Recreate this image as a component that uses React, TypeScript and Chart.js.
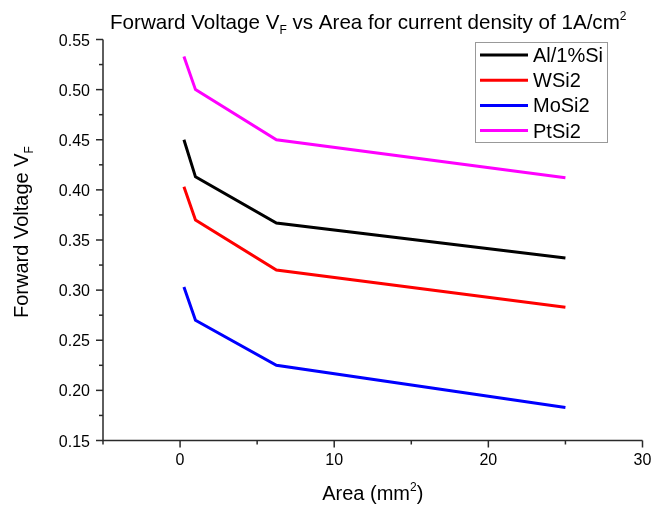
import React, { useEffect, useRef } from "react";
import { Chart, registerables } from "chart.js";
Chart.register(...registerables);

// ---- data ----
const areas = [0.25, 1, 6.25, 25];
const seriesNames = ["Al/1%Si", "WSi2", "MoSi2", "PtSi2"];
const seriesColors = ["#000000", "#ff0000", "#0000ff", "#ff00ff"];
const alSi = [0.45, 0.413, 0.367, 0.332];
const wSi2 = [0.403, 0.37, 0.32, 0.283];
const moSi2 = [0.303, 0.27, 0.225, 0.183];
const ptSi2 = [0.533, 0.5, 0.45, 0.412];
const xMajorTicks = [0, 10, 20, 30];
const xMinorTicks = [-5, 5, 15, 25];
const yMajorTicks = [0.15, 0.2, 0.25, 0.3, 0.35, 0.4, 0.45, 0.5, 0.55];
const yMinorTicks = [0.175, 0.225, 0.275, 0.325, 0.375, 0.425, 0.475, 0.525];

const FONT = '"Liberation Sans", Arial, sans-serif';

type Part = { text: string; size: number; dy: number };

function richWidth(ctx: CanvasRenderingContext2D, parts: Part[]) {
  let w = 0;
  for (const p of parts) {
    ctx.font = `${p.size}px ${FONT}`;
    w += ctx.measureText(p.text).width;
  }
  return w;
}

function drawRich(ctx: CanvasRenderingContext2D, parts: Part[], x: number, y: number) {
  let cx = x;
  ctx.textAlign = "left";
  ctx.textBaseline = "alphabetic";
  for (const p of parts) {
    ctx.font = `${p.size}px ${FONT}`;
    ctx.fillText(p.text, cx, y + p.dy);
    cx += ctx.measureText(p.text).width;
  }
}

const decorPlugin = {
  id: "decor",
  afterDraw(chart: any) {
    const ctx: CanvasRenderingContext2D = chart.ctx;
    const xs = chart.scales.x;
    const ys = chart.scales.y;
    const { left, right, top, bottom } = chart.chartArea;
    ctx.save();
    ctx.strokeStyle = "#2a2a2a";
    ctx.lineWidth = 1.5;
    ctx.beginPath();
    ctx.moveTo(left, top);
    ctx.lineTo(left, bottom);
    ctx.lineTo(right, bottom);
    ctx.stroke();

    const seg = (x1: number, y1: number, x2: number, y2: number) => {
      ctx.beginPath();
      ctx.moveTo(x1, y1);
      ctx.lineTo(x2, y2);
      ctx.stroke();
    };
    yMajorTicks.forEach((v) => {
      const py = ys.getPixelForValue(v);
      seg(left - 7, py, left, py);
    });
    yMinorTicks.forEach((v) => {
      const py = ys.getPixelForValue(v);
      seg(left - 4, py, left, py);
    });
    xMajorTicks.forEach((v) => {
      const px = xs.getPixelForValue(v);
      seg(px, bottom, px, bottom + 7);
    });
    xMinorTicks.forEach((v) => {
      const px = xs.getPixelForValue(v);
      seg(px, bottom, px, bottom + 4);
    });

    ctx.fillStyle = "#000";
    ctx.font = `16px ${FONT}`;
    ctx.textAlign = "right";
    ctx.textBaseline = "alphabetic";
    yMajorTicks.forEach((v) => {
      const py = ys.getPixelForValue(v);
      ctx.fillText(v.toFixed(2), left - 13, py + 6);
    });
    ctx.textAlign = "center";
    xMajorTicks.forEach((v) => {
      const px = xs.getPixelForValue(v);
      ctx.fillText(String(v), px, bottom + 24.5);
    });

    // title
    const titleParts: Part[] = [
      { text: "Forward Voltage V", size: 20.6, dy: 0 },
      { text: "F", size: 12, dy: 5 },
      { text: " vs Area for current density of 1A/cm", size: 20.6, dy: 0 },
      { text: "2", size: 12, dy: -9 },
    ];
    drawRich(ctx, titleParts, 110, 29);

    // x axis title
    const xtParts: Part[] = [
      { text: "Area (mm", size: 20, dy: 0 },
      { text: "2", size: 12, dy: -9 },
      { text: ")", size: 20, dy: 0 },
    ];
    const xw = richWidth(ctx, xtParts);
    drawRich(ctx, xtParts, (left + right) / 2 - xw / 2, 500);

    // y axis title
    ctx.save();
    ctx.translate(28, 318);
    ctx.rotate(-Math.PI / 2);
    drawRich(ctx, [
      { text: "Forward Voltage V", size: 20, dy: 0 },
      { text: "F", size: 12, dy: 5 },
    ], 0, 0);
    ctx.restore();

    // legend
    ctx.strokeStyle = "#999";
    ctx.lineWidth = 1;
    ctx.strokeRect(475.5, 42.5, 132, 100);
    chart.data.datasets.forEach((ds: any, i: number) => {
      const ry = 55 + i * 25.2;
      ctx.strokeStyle = ds.borderColor;
      ctx.lineWidth = 3;
      seg(480, ry, 528, ry);
      ctx.fillStyle = "#000";
      ctx.font = `20px ${FONT}`;
      ctx.textAlign = "left";
      ctx.fillText(ds.label, 533, ry + 7);
    });
    ctx.restore();
  },
};

export default function App() {
  const ref = useRef<HTMLCanvasElement | null>(null);
  useEffect(() => {
    if (!ref.current) return;
    const seriesValues = [alSi, wSi2, moSi2, ptSi2];
    const chart = new Chart(ref.current, {
      type: "line",
      data: {
        datasets: seriesNames.map((name, i) => ({
          label: name,
          data: areas.map((a, j) => ({ x: a, y: seriesValues[i][j] })),
          borderColor: seriesColors[i],
          backgroundColor: seriesColors[i],
          borderWidth: 3,
          pointRadius: 0,
          tension: 0,
          fill: false,
        })),
      },
      options: {
        animation: false,
        responsive: false,
        devicePixelRatio: 1,
        layout: { padding: { left: 103, right: 9.5, top: 39.5, bottom: 65.5 } },
        scales: {
          x: { type: "linear", min: -5, max: 30, display: false },
          y: { type: "linear", min: 0.15, max: 0.55, display: false },
        },
        plugins: {
          legend: { display: false },
          tooltip: { enabled: false },
          title: { display: false },
        },
      },
      plugins: [decorPlugin],
    } as any);
    return () => chart.destroy();
  }, []);
  return (
    <div style={{ position: "absolute", left: 0, top: 0, width: 652, height: 506, background: "#fff" }}>
      <canvas ref={ref} width={652} height={506} />
    </div>
  );
}
